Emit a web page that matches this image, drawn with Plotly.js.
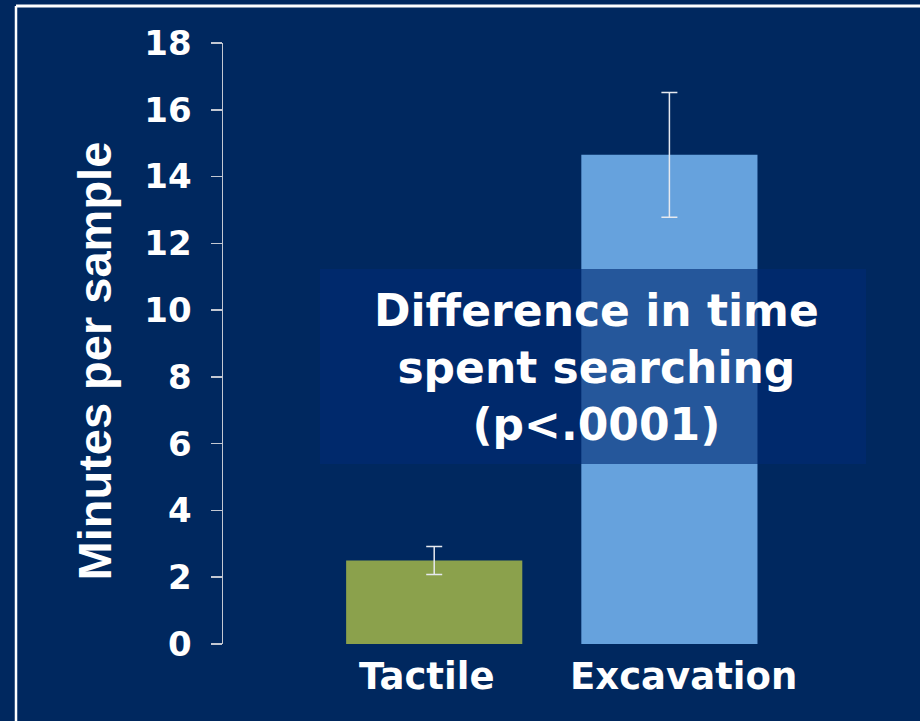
<!DOCTYPE html>
<html>
<head>
<meta charset="utf-8">
<script src="https://cdn.plot.ly/plotly-3.0.1.min.js"></script>
<style>
  html, body { margin: 0; padding: 0; background: #00285F; }
  #chart { width: 920px; height: 721px; }
</style>
</head>
<body>
<div id="chart"></div>
<script>
// ---- data ----
const categories = ["Tactile", "Excavation"];
const minutesPerSample = [2.5, 14.65];
const errorValues = [0.42, 1.87];
const barColors = ["#8BA14C", "#66A2DD"];
const yTickValues = [0, 2, 4, 6, 8, 10, 12, 14, 16, 18];
const yAxisTitle = "Minutes per sample";
const noteLines = ["Difference in time", "spent searching", "(p<.0001)"];

// ---- layout geometry ----
const W = 920, H = 721;
const M = { l: 223, r: 133, t: 43, b: 77 };
const PW = W - M.l - M.r, PH = H - M.t - M.b;
const px = x => (x - M.l) / PW;           // pixel x -> paper
const py = y => (H - M.b - y) / PH;       // pixel y -> paper

const bg = "#00285F";
const labelShift = [-7, 14];

const trace = {
  type: "bar",
  x: categories,
  y: minutesPerSample,
  width: 0.749,
  marker: { color: barColors, line: { width: 0 } },
  error_y: {
    type: "data",
    array: errorValues,
    visible: true,
    color: "#E6E9EF",
    thickness: 1.5,
    width: 8
  },
  hoverinfo: "none"
};

const catLabels = categories.map((c, i) => ({
  xref: "x", yref: "paper", x: c, y: py(676), xshift: labelShift[i],
  text: c, showarrow: false, xanchor: "center", yanchor: "middle",
  font: { family: "DejaVu Sans", size: 37, color: "#FFFFFF", weight: "bold" }
}));

const layout = {
  width: W, height: H,
  margin: M,
  paper_bgcolor: bg,
  plot_bgcolor: bg,
  showlegend: false,
  xaxis: {
    type: "category",
    range: [-0.898, 1.5],
    showline: false, showgrid: false, zeroline: false,
    ticks: "", showticklabels: false
  },
  yaxis: {
    range: [0, 18],
    tickvals: yTickValues,
    showline: true, linecolor: "#C3C8D2", linewidth: 1.5,
    ticks: "outside", ticklen: 11, tickwidth: 1.5, tickcolor: "#C3C8D2",
    showgrid: false, zeroline: false,
    tickfont: { family: "DejaVu Sans", size: 34, color: "#FFFFFF", weight: "bold" },
    ticklabelstandoff: 12
  },
  shapes: [
    { type: "line", xref: "paper", yref: "paper",
      x0: px(16), x1: px(930), y0: py(6), y1: py(6),
      line: { color: "#FFFFFF", width: 3 } },
    { type: "line", xref: "paper", yref: "paper",
      x0: px(16), x1: px(16), y0: py(6), y1: py(730),
      line: { color: "#FFFFFF", width: 2.5 } },
    { type: "rect", xref: "paper", yref: "paper",
      x0: px(320), x1: px(866), y0: py(464), y1: py(269),
      fillcolor: "rgba(0,43,115,0.63)", line: { width: 0 }, layer: "above" }
  ],
  annotations: [
    { xref: "paper", yref: "paper", x: px(94), y: py(361.5),
      text: yAxisTitle, textangle: -90, showarrow: false,
      xanchor: "center", yanchor: "middle",
      font: { family: "Liberation Sans", size: 47, color: "#FFFFFF", weight: "bold" } },
    { xref: "paper", yref: "paper", x: px(596), y: py(367),
      text: noteLines.join("<br>"), showarrow: false, align: "center",
      xanchor: "center", yanchor: "middle",
      font: { family: "DejaVu Sans", size: 44, color: "#FFFFFF", weight: "bold" } }
  ].concat(catLabels)
};

Plotly.newPlot("chart", [trace], layout, { displayModeBar: false, staticPlot: true });
</script>
</body>
</html>
